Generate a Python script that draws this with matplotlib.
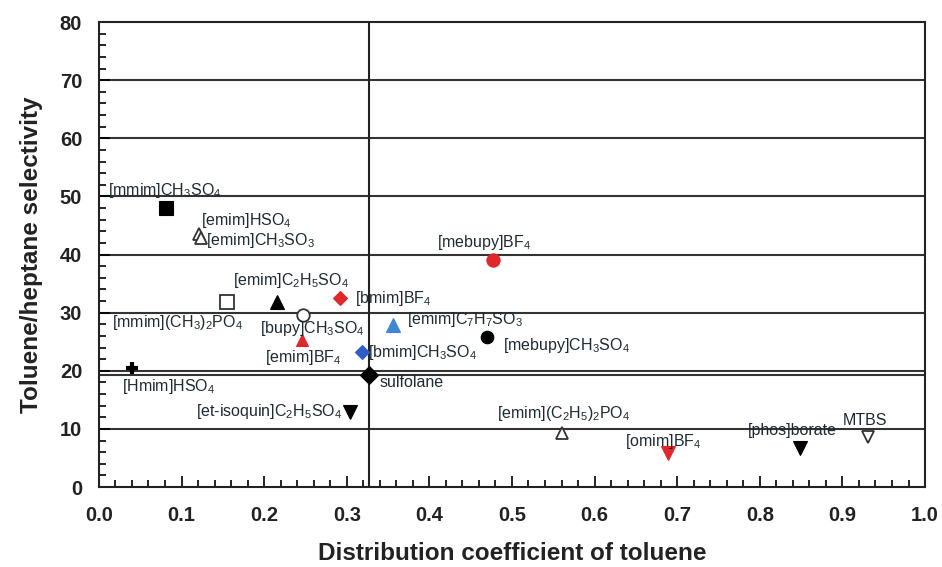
import matplotlib
matplotlib.use("Agg")
import matplotlib.pyplot as plt
from matplotlib.ticker import MultipleLocator

plt.rcParams['font.family'] = ['Liberation Sans', 'DejaVu Sans']
plt.rcParams['mathtext.default'] = 'regular'

# distribution coefficient of toluene / toluene-heptane selectivity
names = [
    '[mmim]CH$_3$SO$_4$', '[emim]HSO$_4$', '[emim]CH$_3$SO$_3$',
    '[emim]C$_2$H$_5$SO$_4$', '[bmim]BF$_4$', '[mmim](CH$_3$)$_2$PO$_4$',
    '[bupy]CH$_3$SO$_4$', '[emim]BF$_4$', '[bmim]CH$_3$SO$_4$',
    '[emim]C$_7$H$_7$SO$_3$', '[mebupy]CH$_3$SO$_4$', '[mebupy]BF$_4$',
    '[Hmim]HSO$_4$', 'sulfolane', '[et-isoquin]C$_2$H$_5$SO$_4$',
    '[emim](C$_2$H$_5$)$_2$PO$_4$', '[omim]BF$_4$', '[phos]borate', 'MTBS',
]
dist = [0.081, 0.121, 0.124, 0.215, 0.292, 0.155, 0.247, 0.246, 0.318,
        0.356, 0.470, 0.477, 0.040, 0.327, 0.304, 0.561, 0.689, 0.849, 0.931]
sel = [48.0, 43.5, 42.9, 31.8, 32.5, 31.8, 29.6, 25.3, 23.2,
       27.9, 25.8, 39.1, 20.5, 19.3, 12.9, 9.3, 5.9, 6.7, 8.6]

# marker styles: (marker, face, edge, size)
RED = '#e0282a'
BLUE_D = '#2f5fc4'
BLUE_T = '#3f86d4'
styles = [
    ('s', 'black', 'black', 9.5), ('^', 'white', '#333333', 9), ('^', 'white', '#333333', 9),
    ('^', 'black', 'black', 9.5), ('D', RED, RED, 7), ('s', 'white', '#333333', 9.5),
    ('o', 'white', '#333333', 9), ('^', RED, RED, 9), ('D', BLUE_D, BLUE_D, 7),
    ('^', BLUE_T, BLUE_T, 9.5), ('o', 'black', 'black', 9), ('o', RED, RED, 9.5),
    ('P', 'black', 'black', 9), ('D', 'black', 'black', 9), ('v', 'black', 'black', 9.5),
    ('^', 'white', '#333333', 9), ('v', RED, RED, 9.5), ('v', 'black', 'black', 9.5),
    ('v', 'white', '#333333', 9),
]
# label offsets in pixels (dx, dy, ha)
offsets = [
    (-58, 18, 'left'), (2, 14, 'left'), (5, -3, 'left'),
    (-44, 22, 'left'), (15, 0, 'left'), (-115, -20, 'left'),
    (-43, -13, 'left'), (-37, -17, 'left'), (6, 0, 'left'),
    (14, 5, 'left'), (16, -8, 'left'), (-56, 17, 'left'),
    (-10, -19, 'left'), (11, -8, 'left'), (-8, 1, 'right'),
    (-65, 20, 'left'), (-43, 11, 'left'), (-52, 18, 'left'),
    (-25, 17, 'left'),
]

fig = plt.figure(figsize=(9.42, 5.67), dpi=100)
ax = fig.add_axes([0.105, 0.141, 0.877, 0.820])

ax.set_xlim(0, 1.0)
ax.set_ylim(0, 80)
for yv in range(10, 80, 10):
    ax.axhline(yv, color='#333333', lw=1.5, zorder=1)

# sulfolane reference lines
ax.axvline(dist[13], color='#222222', lw=1.5, zorder=1)
ax.axhline(sel[13], color='#333333', lw=1.5, zorder=1)

for i in range(len(names)):
    m, fc, ec, ms = styles[i]
    mew = 1.3 if fc == 'white' else 0.8
    if m == 'P':
        ax.plot(dist[i], sel[i], marker='+', ms=ms, mew=3, color=ec, zorder=3)
    else:
        ax.plot(dist[i], sel[i], marker=m, ms=ms, mfc=fc, mec=ec, mew=mew,
                ls='none', zorder=3)
    dx, dy, ha = offsets[i]
    ax.annotate(names[i], (dist[i], sel[i]), xytext=(dx, dy),
                textcoords='offset pixels', ha=ha, va='center',
                fontsize=11.5, color='#1e2a33', zorder=4)

ax.xaxis.set_major_locator(MultipleLocator(0.1))
ax.xaxis.set_minor_locator(MultipleLocator(0.02))
ax.yaxis.set_major_locator(MultipleLocator(10))
ax.yaxis.set_minor_locator(MultipleLocator(2))
ax.xaxis.set_major_formatter(matplotlib.ticker.FormatStrFormatter('%.1f'))
ax.tick_params(axis='both', which='major', direction='in', length=8, width=1.2,
               labelsize=14.5)
ax.tick_params(axis='x', which='major', pad=14)
ax.tick_params(axis='y', which='major', pad=12)
ax.tick_params(axis='both', which='minor', direction='in', length=5, width=1.2)
for lab in ax.get_xticklabels() + ax.get_yticklabels():
    lab.set_fontweight('bold')
    lab.set_color('#222222')

for sp in ax.spines.values():
    sp.set_linewidth(1.5)
    sp.set_color('#222222')

ax.set_xlabel('Distribution coefficient of toluene', fontsize=17.5,
              fontweight='bold', color='#222222', labelpad=12)
ax.set_ylabel('Toluene/heptane selectivity', fontsize=17.5,
              fontweight='bold', color='#222222', labelpad=12)

fig.savefig('out.png', dpi=100)
